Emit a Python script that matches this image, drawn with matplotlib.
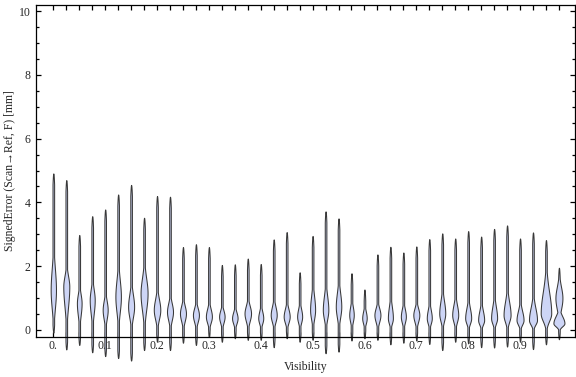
import numpy as np
import matplotlib
matplotlib.use("Agg")
import matplotlib.pyplot as plt
from matplotlib.ticker import MultipleLocator, FixedLocator

# ---------------- data ----------------
visibility = [0.000, 0.025, 0.050, 0.075, 0.100, 0.125, 0.150, 0.175, 0.200, 0.225,
              0.250, 0.275, 0.300, 0.325, 0.350, 0.375, 0.400, 0.425, 0.450, 0.475,
              0.500, 0.525, 0.550, 0.575, 0.600, 0.625, 0.650, 0.675, 0.700, 0.725,
              0.750, 0.775, 0.800, 0.825, 0.850, 0.875, 0.900, 0.925, 0.950, 0.975]
err_max = [4.91, 4.70, 2.98, 3.57, 3.78, 4.25, 4.55, 3.52, 4.20, 4.18,
           2.60, 2.69, 2.60, 2.04, 2.06, 2.24, 2.07, 2.84, 3.07, 1.81,
           2.95, 3.72, 3.50, 1.78, 1.27, 2.37, 2.61, 2.43, 2.62, 2.85,
           3.03, 2.87, 3.10, 2.93, 3.17, 3.28, 2.87, 3.06, 2.82, 1.95]
err_min = [-0.08, -0.61, -0.47, -0.70, -0.82, -0.88, -0.96, -0.63, -0.37, -0.63,
           -0.40, -0.47, -0.21, -0.37, -0.26, -0.31, -0.31, -0.54, -0.26, -0.37,
           -0.31, -0.73, -0.68, -0.33, -0.26, -0.31, -0.45, -0.40, -0.33, -0.44,
           -0.63, -0.37, -0.42, -0.54, -0.55, -0.52, -0.37, -0.60, -0.45, -0.29]
mode = [1.25, 1.36, 0.84, 0.94, 0.63, 1.04, 0.73, 1.15, 0.63, 0.57,
        0.52, 0.47, 0.42, 0.42, 0.37, 0.52, 0.37, 0.47, 0.42, 0.42,
        0.63, 0.63, 0.73, 0.47, 0.37, 0.47, 0.37, 0.42, 0.47, 0.37,
        0.52, 0.47, 0.37, 0.31, 0.37, 0.47, 0.31, 0.31, 0.52, 0.21]
body_top = [2.72, 2.09, 1.46, 1.67, 1.25, 2.19, 1.57, 2.19, 1.36, 1.15,
            1.04, 0.94, 0.94, 0.84, 0.78, 1.04, 0.84, 1.04, 0.94, 0.94,
            1.57, 1.57, 1.67, 1.04, 0.84, 0.94, 1.15, 0.94, 0.94, 0.94,
            1.36, 1.15, 1.04, 0.94, 1.15, 1.36, 0.94, 1.15, 1.99, 0.70]
peak_density = [0.53, 0.60, 0.47, 0.50, 0.50, 0.55, 0.60, 0.70, 0.65, 0.60,
                0.60, 0.60, 0.60, 0.55, 0.55, 0.65, 0.50, 0.60, 0.60, 0.50,
                0.50, 0.55, 0.55, 0.45, 0.45, 0.60, 0.50, 0.50, 0.60, 0.50,
                0.60, 0.60, 0.60, 0.60, 0.60, 0.70, 0.70, 0.80, 1.05, 1.10]
# secondary mode (only the last group is bimodal)
mode2 = [0.0] * 39 + [1.00]
mode2_spread = [0.0] * 39 + [0.35]
mode2_density = [0.0] * 39 + [0.70]

xtick_vals = [0.0, 0.1, 0.2, 0.3, 0.4, 0.5, 0.6, 0.7, 0.8, 0.9]
xtick_labels = ["0.", "0.1", "0.2", "0.3", "0.4", "0.5", "0.6", "0.7", "0.8", "0.9"]
ytick_vals = [0, 2, 4, 6, 8, 10]

# ---------------- figure ----------------
W, H, DPI = 576, 377, 100
fig = plt.figure(figsize=(W / DPI, H / DPI), dpi=DPI)
L, R, B, T = 36 / W, 575 / W, 1 - 337 / H, 1 - 4.7 / H
ax = fig.add_axes([L, B, R - L, T - B])
xlim = (-0.0334, 1.006)
ylim = (-0.22, 10.2)
ax.set_xlim(*xlim)
ax.set_ylim(*ylim)

px_per_x = W * (R - L) / (xlim[1] - xlim[0])
width_scale_px = 10.0  # px of full width per unit density
tail_px = 0.8

fill_col = "#cdd5f6"
edge_col = "#383838"

for i, x0 in enumerate(visibility):
    lo, hi, c = err_min[i], err_max[i], mode[i]
    y = np.linspace(lo, hi, 600)
    s_up = max(body_top[i] - c, 0.1) / 2.2
    s_dn = max(c, 0.15) / 2.2
    sig = np.where(y >= c, s_up, s_dn)
    body = peak_density[i] * width_scale_px / 2 * np.exp(-0.5 * ((y - c) / sig) ** 2)
    if mode2_density[i] > 0:
        body2 = mode2_density[i] * width_scale_px / 2 * np.exp(
            -0.5 * ((y - mode2[i]) / mode2_spread[i]) ** 2)
        body = np.maximum(body, body2)
    taper = (np.clip((hi - y) / 0.35, 0, 1) ** 0.5) * (np.clip((y - lo) / 0.25, 0, 1) ** 0.5)
    hw_px = np.maximum(body, tail_px * taper)
    hw = hw_px / px_per_x
    ax.fill_betweenx(y, x0 - hw, x0 + hw, facecolor=fill_col, edgecolor=edge_col,
                     linewidth=0.75, clip_on=False, zorder=2)

# ---------------- axes styling ----------------
txt_col = "#262626"
serif = ["Liberation Serif", "DejaVu Serif"]

for sp in ax.spines.values():
    sp.set_linewidth(0.9)
    sp.set_color("black")
    sp.set_zorder(3)

ax.xaxis.set_major_locator(FixedLocator(xtick_vals))
ax.set_xticklabels(xtick_labels)
ax.xaxis.set_minor_locator(FixedLocator(visibility))
ax.yaxis.set_major_locator(FixedLocator(ytick_vals))
ax.yaxis.set_minor_locator(MultipleLocator(0.5))

ax.tick_params(axis="x", which="both", direction="in", top=True, bottom=True,
               length=3.4, width=0.9, color="black", pad=2.5)
ax.tick_params(axis="y", which="major", direction="in", left=True, right=True,
               length=3.4, width=0.9, color="black", pad=4)
ax.tick_params(axis="y", which="minor", direction="in", left=True, right=True,
               length=1.9, width=0.9, color="black")
for lab in ax.get_xticklabels() + ax.get_yticklabels():
    lab.set_family(serif)
    lab.set_fontsize(8.5)
    lab.set_color(txt_col)

ax.set_xlabel("Visibility", family=serif, fontsize=8.5, color=txt_col, labelpad=6)
ax.set_ylabel("SignedError (Scan\u2192Ref, F) [mm]", family=serif, fontsize=8.5,
              color=txt_col)
ax.yaxis.set_label_coords(-0.038, 0.5)

fig.savefig("out.png", dpi=DPI)
